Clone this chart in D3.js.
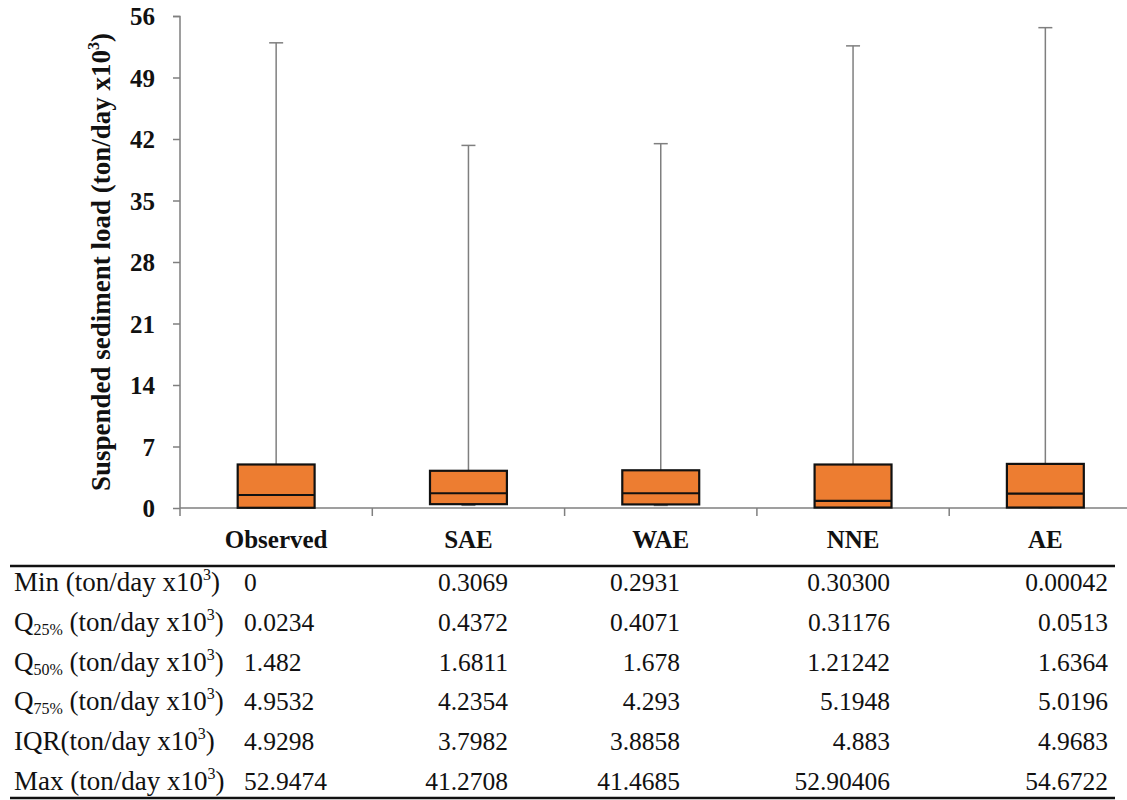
<!DOCTYPE html>
<html><head><meta charset="utf-8">
<script src="https://cdn.jsdelivr.net/npm/d3@7"></script>
<style>
html,body{margin:0;padding:0;background:#fff;}
svg{display:block;}
</style></head>
<body><svg id="chart" width="1127" height="800"></svg>
<script>
const categories = ["Observed","SAE","WAE","NNE","AE"];
// box-plot values as drawn in the figure
const boxMin = [0, 0.3069, 0.2931, 0.05, 0.00042];
const boxQ25 = [0.0234, 0.4372, 0.4071, 0.05, 0.0513];
const boxQ50 = [1.482, 1.6811, 1.678, 0.8, 1.6364];
const boxQ75 = [4.9532, 4.2354, 4.293, 4.95, 5.0196];
const boxMax = [52.9474, 41.2708, 41.4685, 52.6, 54.6722];
const yTicks = [0,7,14,21,28,35,42,49,56];
// statistics table
const rowLabels = ["Min","Q25%","Q50%","Q75%","IQR","Max"];
const rowMin = ["0","0.3069","0.2931","0.30300","0.00042"];
const rowQ25 = ["0.0234","0.4372","0.4071","0.31176","0.0513"];
const rowQ50 = ["1.482","1.6811","1.678","1.21242","1.6364"];
const rowQ75 = ["4.9532","4.2354","4.293","5.1948","5.0196"];
const rowIQR = ["4.9298","3.7982","3.8858","4.883","4.9683"];
const rowMax = ["52.9474","41.2708","41.4685","52.90406","54.6722"];
const rowTexts = [rowMin,rowQ25,rowQ50,rowQ75,rowIQR,rowMax];

const FONT = "'Liberation Serif','Times New Roman',serif";
const svg = d3.select("#chart");
const x = d3.scaleBand().domain(categories).range([180, 1141.5]);
const y = d3.scaleLinear().domain([0,56]).range([508,16]);
const axisColor = "#7f7f7f";

// y axis
const yAxis = svg.append("g").attr("transform","translate(180,0)")
  .call(d3.axisLeft(y).tickValues(yTicks).tickSize(7).tickPadding(18).tickFormat(d3.format("d")));
yAxis.attr("font-family",null);
yAxis.select(".domain").attr("stroke",axisColor).attr("stroke-width",1.5).attr("d","M-7,16.5H0V516");
yAxis.selectAll(".tick line").attr("stroke",axisColor).attr("stroke-width",1.5);
yAxis.selectAll(".tick text").style("font-family",FONT).attr("font-weight","bold").attr("font-size",25).attr("fill","#111").attr("dy","0.34em");

// x axis
const xAxis = svg.append("g").attr("transform","translate(0,508)");
xAxis.append("line").attr("x1",180).attr("x2",1127).attr("y1",0).attr("y2",0).attr("stroke",axisColor).attr("stroke-width",1.5);
xAxis.selectAll("line.tk").data(categories.slice(1)).join("line").attr("class","tk")
  .attr("x1",d=>x(d)).attr("x2",d=>x(d)).attr("y1",0).attr("y2",8).attr("stroke",axisColor).attr("stroke-width",1.5);
xAxis.selectAll("text").data(categories).join("text")
  .attr("x",d=>x(d)+x.bandwidth()/2).attr("y",40).attr("text-anchor","middle")
  .style("font-family",FONT).attr("font-weight","bold").attr("font-size",25).attr("fill","#111").text(d=>d);

// y title
svg.append("text").attr("transform","translate(110,262) rotate(-90)").attr("text-anchor","middle")
  .style("font-family",FONT).attr("font-weight","bold").attr("font-size",27).attr("fill","#111")
  .call(t=>{t.append("tspan").text("Suspended sediment load (ton/day x10");
            t.append("tspan").attr("font-size",16).attr("dy",-11).text("3");
            t.append("tspan").attr("dy",11).text(")");});

// boxes
const bw = x.bandwidth()*0.4;
const g = svg.append("g");
categories.forEach((c,i)=>{
  const cx = x(c)+x.bandwidth()/2;
  g.append("line").attr("x1",cx).attr("x2",cx).attr("y1",y(boxMax[i])).attr("y2",y(boxQ75[i])).attr("stroke",axisColor).attr("stroke-width",1.5);
  g.append("line").attr("x1",cx-7).attr("x2",cx+7).attr("y1",y(boxMax[i])).attr("y2",y(boxMax[i])).attr("stroke",axisColor).attr("stroke-width",1.5);
  g.append("line").attr("x1",cx).attr("x2",cx).attr("y1",y(boxQ25[i])).attr("y2",y(boxMin[i])).attr("stroke",axisColor).attr("stroke-width",1.5);
  g.append("line").attr("x1",cx-7).attr("x2",cx+7).attr("y1",y(boxMin[i])).attr("y2",y(boxMin[i])).attr("stroke",axisColor).attr("stroke-width",1.5);
  g.append("rect").attr("x",cx-bw/2).attr("width",bw).attr("y",y(boxQ75[i])).attr("height",y(boxQ25[i])-y(boxQ75[i]))
    .attr("fill","#ED7D31").attr("stroke","#111").attr("stroke-width",2.2);
  g.append("line").attr("x1",cx-bw/2).attr("x2",cx+bw/2).attr("y1",y(boxQ50[i])).attr("y2",y(boxQ50[i])).attr("stroke","#111").attr("stroke-width",2.2);
});

// table
const tbl = svg.append("g");
tbl.append("line").attr("x1",10).attr("x2",1115).attr("y1",566).attr("y2",566).attr("stroke","#111").attr("stroke-width",2.5);
tbl.append("line").attr("x1",10).attr("x2",1115).attr("y1",798).attr("y2",798).attr("stroke","#111").attr("stroke-width",2.5);
const rowY = d3.scaleLinear().domain([0,5]).range([591,790]);
const colRight = [null, 508, 680, 890, 1108];
const fsLab = 27, fsNum = 25.5;
rowLabels.forEach((lab,r)=>{
  const t = tbl.append("text").attr("x",14).attr("y",rowY(r)).style("font-family",FONT).attr("font-size",fsLab).attr("fill","#111");
  if (lab.startsWith("Q")) {
    t.append("tspan").text("Q");
    t.append("tspan").attr("font-size",16).attr("dy",4).text(lab.slice(1));
    t.append("tspan").attr("dy",-4).text(" (ton/day x10");
  } else if (lab==="IQR") {
    t.append("tspan").text("IQR(ton/day x10");
  } else {
    t.append("tspan").text(lab+" (ton/day x10");
  }
  t.append("tspan").attr("font-size",16).attr("dy",-11).text("3");
  t.append("tspan").attr("dy",11).text(")");
  rowTexts[r].forEach((v,ci)=>{
    const tx = tbl.append("text").attr("y",rowY(r)).style("font-family",FONT).attr("font-size",fsNum).attr("fill","#111").text(v);
    if (ci===0) tx.attr("x",244).attr("text-anchor","start");
    else tx.attr("x",colRight[ci]).attr("text-anchor","end");
  });
});
</script></body></html>
